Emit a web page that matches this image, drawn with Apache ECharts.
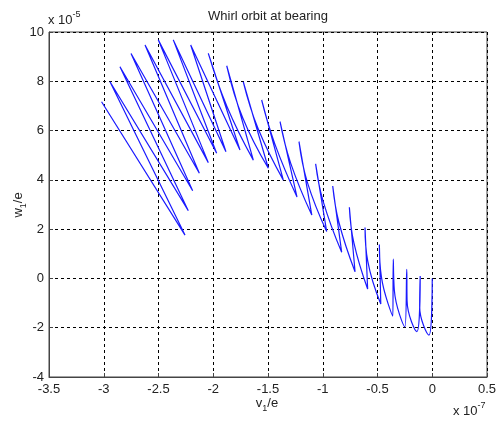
<!DOCTYPE html>
<html>
<head>
<meta charset="utf-8">
<title>Whirl orbit at bearing</title>
<script src="https://cdn.jsdelivr.net/npm/echarts@6/dist/echarts.min.js"></script>
<style>
html, body { margin: 0; padding: 0; background: #fff; }
#chart { width: 500px; height: 421px; }
</style>
</head>
<body>
<div id="chart"></div>
<script>
// turning points of the orbit, v1/e in units of 1e-7, w1/e in units of 1e-5
var topV = [-3.02, -2.943, -2.852, -2.751, -2.623, -2.502, -2.365, -2.206, -2.045, -1.877, -1.726, -1.558,
            -1.39, -1.217, -1.065, -0.909, -0.757, -0.614, -0.483, -0.356, -0.233, -0.11, 0];
var topW = [7.17, 7.98, 8.59, 9.13, 9.47, 9.68, 9.68, 9.47, 9.13, 8.63, 7.98, 7.24,
            6.36, 5.55, 4.65, 3.75, 2.89, 2.07, 1.38, 0.78, 0.37, 0.1, 0];
// where the falling branch leaves the steep tooth (null = no visible kink)
var kinkV = [null, null, null, null, null, null, null, null, -1.874, -1.731, -1.588, -1.437,
             -1.293, -1.141, -0.997, -0.852, -0.716, -0.589, -0.464, -0.346, -0.230, -0.115];
var kinkW = [null, null, null, null, null, null, null, null, 6.97, 6.52, 6.05, 5.45,
             4.68, 3.91, 3.14, 2.27, 1.45, 0.70, 0.05, -0.49, -0.91, -1.14];
var botV = [-2.258, -2.228, -2.188, -2.127, -2.045, -1.969, -1.884, -1.756, -1.634, -1.497, -1.36,
            -1.235, -1.1, -0.964, -0.827, -0.705, -0.59, -0.47, -0.36, -0.25, -0.14, -0.03];
var botW = [1.76, 2.75, 3.56, 4.27, 4.70, 5.08, 5.14, 5.21, 4.8, 4.47, 3.99,
            3.3, 2.57, 1.9, 1.06, 0.27, -0.43, -1.04, -1.53, -1.96, -2.16, -2.3];

var xTicks = [-3.5, -3, -2.5, -2, -1.5, -1, -0.5, 0, 0.5];
var yTicks = [-4, -2, 0, 2, 4, 6, 8, 10];

// path goes top -> (kink) -> bottom -> next top ...
var orbit = [];
for (var i = 0; i < topV.length; i++) {
  orbit.push([topV[i], topW[i]]);
  if (i < botV.length) {
    if (kinkV[i] !== null) orbit.push([kinkV[i], kinkW[i]]);
    orbit.push([botV[i], botW[i]]);
  }
}

var font = 'Liberation Sans, Arial, sans-serif';
var txt = '#222';

var chart = echarts.init(document.getElementById('chart'));

chart.setOption({
  backgroundColor: '#fff',
  animation: false,
  grid: {
    left: 49,
    right: 13,
    top: 32,
    bottom: 44,
    show: true,
    borderColor: '#444',
    borderWidth: 1
  },
  xAxis: {
    type: 'value',
    min: xTicks[0],
    max: xTicks[xTicks.length - 1],
    interval: 0.5,
    axisLine: { show: true, onZero: false, lineStyle: { color: '#444' } },
    axisTick: { show: true, inside: true, length: 4, lineStyle: { color: '#444' } },
    axisLabel: { color: txt, fontSize: 13, fontFamily: font, margin: 6 },
    splitLine: { show: true, lineStyle: { color: '#000', type: [3, 3], width: 1 } }
  },
  yAxis: {
    type: 'value',
    min: yTicks[0],
    max: yTicks[yTicks.length - 1],
    interval: 2,
    axisLine: { show: true, onZero: false, lineStyle: { color: '#444' } },
    axisTick: { show: true, inside: true, length: 4, lineStyle: { color: '#444' } },
    axisLabel: { color: txt, fontSize: 13, fontFamily: font, margin: 5 },
    splitLine: { show: true, lineStyle: { color: '#000', type: [3, 3], width: 1 } }
  },
  series: [{
    type: 'line',
    data: orbit,
    showSymbol: false,
    smooth: 0.45,
    lineStyle: { color: '#1a1aff', width: 1.2 }
  }],
  graphic: [
    {
      type: 'text', x: 268, y: 16,
      style: { text: 'Whirl orbit at bearing', font: '13px ' + font, fill: txt, align: 'center', verticalAlign: 'middle' }
    },
    {
      type: 'text', x: 48, y: 20,
      style: {
        text: '{n|x 10}{s|-5}', align: 'left', verticalAlign: 'middle', fill: txt,
        rich: {
          n: { fontSize: 13, fontFamily: font, lineHeight: 20, verticalAlign: 'middle', fill: txt },
          s: { fontSize: 9, fontFamily: font, lineHeight: 9, verticalAlign: 'top', fill: txt }
        }
      }
    },
    {
      type: 'text', x: 453, y: 411,
      style: {
        text: '{n|x 10}{s|-7}', align: 'left', verticalAlign: 'middle', fill: txt,
        rich: {
          n: { fontSize: 13, fontFamily: font, lineHeight: 20, verticalAlign: 'middle', fill: txt },
          s: { fontSize: 9, fontFamily: font, lineHeight: 9, verticalAlign: 'top', fill: txt }
        }
      }
    },
    {
      type: 'text', x: 267, y: 403,
      style: {
        text: '{n|v}{s|1}{n|/e}', align: 'center', verticalAlign: 'middle', fill: txt,
        rich: {
          n: { fontSize: 13, fontFamily: font, lineHeight: 20, verticalAlign: 'middle', fill: txt },
          s: { fontSize: 9, fontFamily: font, lineHeight: 9, verticalAlign: 'bottom', fill: txt }
        }
      }
    },
    {
      type: 'text', x: 18, y: 205, rotation: Math.PI / 2,
      style: {
        text: '{n|w}{s|1}{n|/e}', align: 'center', verticalAlign: 'middle', fill: txt,
        rich: {
          n: { fontSize: 13, fontFamily: font, lineHeight: 20, verticalAlign: 'middle', fill: txt },
          s: { fontSize: 9, fontFamily: font, lineHeight: 9, verticalAlign: 'bottom', fill: txt }
        }
      }
    }
  ]
});
</script>
</body>
</html>
